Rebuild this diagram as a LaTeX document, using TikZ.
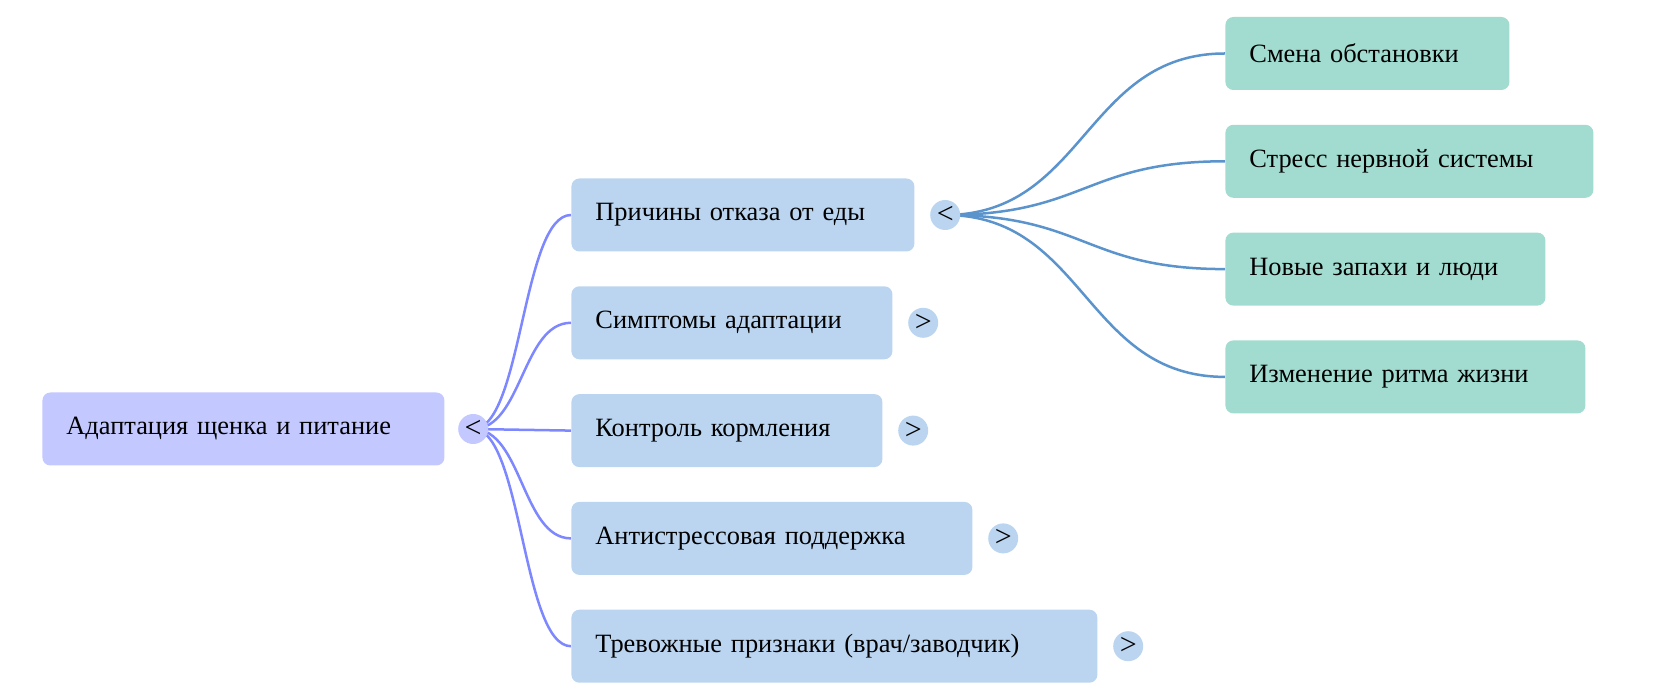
\documentclass[tikz,border=0pt]{standalone}
\usepackage{fontspec}
\setmainfont{Liberation Serif}
\usetikzlibrary{positioning,calc,backgrounds}
\definecolor{rootfill}{HTML}{C3C8FF}
\definecolor{midfill}{HTML}{BBD5F0}
\definecolor{leaffill}{HTML}{A2DCD0}
\definecolor{rootline}{HTML}{7D87FF}
\definecolor{midline}{HTML}{5B93CC}
\begin{document}
\begin{tikzpicture}[x=0.5pt,y=-0.5pt,
    every node/.style={font=\fontsize{13.2}{16}\selectfont},
    topic/.style={rounded corners=4pt,minimum height=36.5pt,inner xsep=12pt,inner ysep=0pt,align=left,anchor=west},
    knob/.style={circle,minimum size=15pt,inner sep=0pt,font=\fontsize{15}{16}\selectfont},
    wire/.style={draw=#1,line width=1.25pt},
    link/.style={to path={let \p1=(\tikztostart),\p2=(\tikztotarget) in
        (\p1) .. controls ({(\x1+\x2)/2},\y1) and ({(\x1+\x2)/2},\y2) .. (\p2)}}]
    \useasboundingbox (0,0) rectangle (1680,699);
    % root
    \node[topic,fill=rootfill,text width=177pt] (root) at (42,429) {Адаптация щенка и питание};
    \node[knob,fill=rootfill,right=6.5pt of root] (rootk) {<};
    % first level
    \node[topic,fill=midfill,text width=147.5pt] (cause) at (571,215) {Причины отказа от еды};
    \node[topic,fill=midfill,text width=136.5pt,below right=17pt and 0pt of cause.south west] (symp) {Симптомы адаптации};
    \node[topic,fill=midfill,text width=131.5pt,below right=17pt and 0pt of symp.south west] (feed) {Контроль кормления};
    \node[topic,fill=midfill,text width=176.5pt,below right=17pt and 0pt of feed.south west] (calm) {Антистрессовая поддержка};
    \node[topic,fill=midfill,text width=239pt,below right=17pt and 0pt of calm.south west] (alarm) {Тревожные признаки (врач/заводчик)};
    \node[knob,fill=midfill,right=7.5pt of cause] (causek) {<};
    \node[knob,fill=midfill,right=7.5pt of symp] (sympk) {>};
    \node[knob,fill=midfill,right=7.5pt of feed] (feedk) {>};
    \node[knob,fill=midfill,right=7.5pt of calm] (calmk) {>};
    \node[knob,fill=midfill,right=7.5pt of alarm] (alarmk) {>};
    % second level
    \node[topic,fill=leaffill,text width=118pt] (env) at (1225,53.5) {Смена обстановки};
    \node[topic,fill=leaffill,text width=160pt,below right=17pt and 0pt of env.south west] (nerv) {Стресс нервной системы};
    \node[topic,fill=leaffill,text width=136pt,below right=17pt and 0pt of nerv.south west] (smell) {Новые запахи и люди};
    \node[topic,fill=leaffill,text width=156pt,below right=17pt and 0pt of smell.south west] (rhythm) {Изменение ритма жизни};
    \begin{scope}[on background layer]
        \draw[wire=rootline] (rootk.center) to[link] (cause.west);
        \draw[wire=rootline] (rootk.center) to[link] (symp.west);
        \draw[wire=rootline] (rootk.center) to[link] (feed.west);
        \draw[wire=rootline] (rootk.center) to[link] (calm.west);
        \draw[wire=rootline] (rootk.center) to[link] (alarm.west);
        \draw[wire=midline] (causek.center) to[link] (env.west);
        \draw[wire=midline] (causek.center) to[link] (nerv.west);
        \draw[wire=midline] (causek.center) to[link] (smell.west);
        \draw[wire=midline] (causek.center) to[link] (rhythm.west);
    \end{scope}
\end{tikzpicture}
\end{document}
